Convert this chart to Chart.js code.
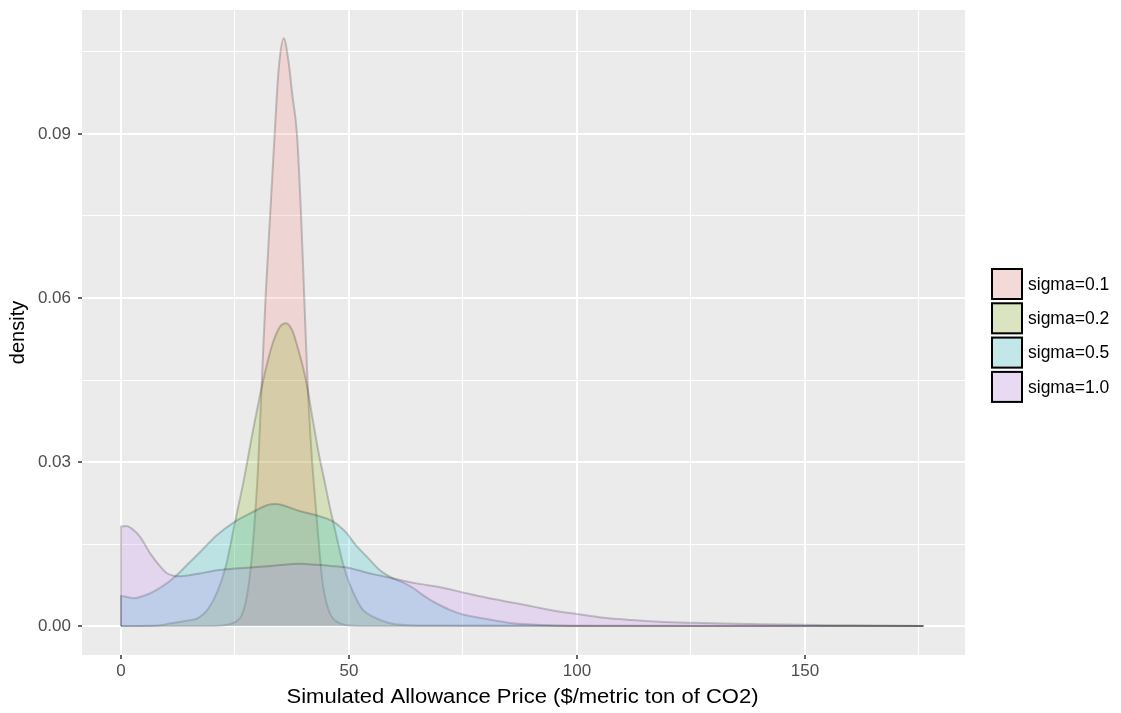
<!DOCTYPE html>
<html>
<head>
<meta charset="utf-8">
<script src="https://cdn.jsdelivr.net/npm/chart.js@4/dist/chart.umd.min.js"></script>
<style>
  html, body { margin: 0; padding: 0; background: #fff; }
  #wrap { width: 1121px; height: 713px; }
</style>
</head>
<body>
<div id="wrap"><canvas id="densityChart" width="1121" height="713"></canvas></div>
<script>
// series: price ($/t) and density per sigma group
const seriesLabels = ['sigma=0.1', 'sigma=0.2', 'sigma=0.5', 'sigma=1.0'];
const seriesColors = ['248,118,109', '124,174,0', '0,191,196', '199,124,255'];

const priceS01 = [0, 20, 23, 25, 26.5, 27.5, 28.5, 29.3, 30, 30.8, 31.7, 32.7, 33.7, 34.6, 35.7, 36.7, 37.6, 38.6, 39.5, 40.2, 40.9, 41.6, 42.2, 42.9, 43.5, 44.2, 45, 46, 47.5, 50, 55, 176];
const densityS01 = [0, 0, 0.0002, 0.0007, 0.002, 0.005, 0.011, 0.019, 0.028, 0.043, 0.06, 0.075, 0.09, 0.102, 0.1075, 0.1035, 0.097, 0.09, 0.075, 0.06, 0.045, 0.034, 0.027, 0.02, 0.014, 0.008, 0.0045, 0.002, 0.0007, 0.0001, 0, 0];

const priceS02 = [0, 8, 11, 14, 17, 19, 21, 23, 25, 27, 29, 31.2, 33, 34.9, 36.2, 37.5, 38.5, 40.4, 42.2, 43.5, 44.4, 45.8, 47.3, 48.5, 49.5, 50.6, 51.7, 53, 55, 59, 65, 176];
const densityS02 = [0, 0.0001, 0.0005, 0.0009, 0.0015, 0.003, 0.006, 0.011, 0.019, 0.027, 0.036, 0.045, 0.051, 0.0548, 0.0554, 0.0542, 0.0517, 0.0456, 0.0371, 0.031, 0.0275, 0.0218, 0.0163, 0.012, 0.0092, 0.0068, 0.0048, 0.003, 0.0018, 0.0005, 0.0001, 0];

const priceS05 = [0, 0, 2.7, 6.4, 10, 12.2, 14.5, 17.3, 21, 25, 29, 32, 33.8, 35.5, 38.5, 42.2, 45, 46.6, 48, 49.5, 51.5, 53.9, 56.8, 59.7, 62, 64, 66, 68, 70, 72, 75, 78, 82, 86, 92, 100, 176];
const densityS05 = [0, 0.0055, 0.0051, 0.006, 0.0078, 0.0093, 0.0112, 0.0135, 0.0166, 0.0191, 0.0209, 0.0221, 0.0223, 0.0221, 0.0212, 0.0204, 0.0197, 0.0191, 0.0182, 0.017, 0.0148, 0.0127, 0.0102, 0.0087, 0.0079, 0.007, 0.0058, 0.0047, 0.0038, 0.003, 0.0021, 0.0016, 0.001, 0.0005, 0.0002, 0, 0];

const priceS10 = [0, 0, 1.2, 2.7, 4.2, 6.4, 8.6, 10, 11.5, 13, 15, 17.3, 21, 25, 28.3, 33, 39.3, 43, 46, 49.5, 52, 54.6, 57, 59.7, 64.8, 70, 74.7, 80, 86.4, 90.7, 95, 100, 106, 112, 118, 125, 135, 145, 155, 165, 176];
const densityS10 = [0, 0.0182, 0.0183, 0.0176, 0.0163, 0.0133, 0.0109, 0.0097, 0.0092, 0.0091, 0.0093, 0.0096, 0.0102, 0.0105, 0.0107, 0.011, 0.0114, 0.0112, 0.011, 0.0107, 0.0102, 0.0096, 0.0092, 0.0087, 0.0078, 0.0071, 0.0062, 0.0052, 0.0042, 0.0035, 0.0028, 0.0022, 0.0015, 0.0011, 0.0008, 0.0006, 0.0004, 0.0003, 0.00015, 0.0001, 0];

const xTickValues = [0, 25, 50, 75, 100, 125, 150, 175];
const xMajorTicks = [0, 50, 100, 150];
const yTickValues = [0, 0.015, 0.03, 0.045, 0.06, 0.075, 0.09, 0.105];
const yMajorTicks = [0, 0.03, 0.06, 0.09];

const xTitle = 'Simulated Allowance Price ($/metric ton of CO2)';
const yTitle = 'density';

const FONT = '"Liberation Sans", Arial, Helvetica, sans-serif';

const pairs = (xs, ys) => xs.map((x, i) => ({ x, y: ys[i] }));
const seriesData = [
    pairs(priceS01, densityS01),
    pairs(priceS02, densityS02),
    pairs(priceS05, densityS05),
    pairs(priceS10, densityS10)
];

const isMajor = (list, v) => list.some(m => Math.abs(m - v) < 1e-9);

// grey panel behind the grid
const panelBg = {
    id: 'panelBg',
    beforeDraw(chart) {
        const { ctx, chartArea: a } = chart;
        ctx.save();
        ctx.fillStyle = '#EBEBEB';
        ctx.fillRect(a.left, a.top, a.right - a.left, a.bottom - a.top);
        ctx.restore();
    }
};

// axis titles and the ggplot-style legend on the right
const decorations = {
    id: 'decorations',
    afterDraw(chart) {
        const { ctx, chartArea: a } = chart;
        ctx.save();
        ctx.fillStyle = '#000';
        ctx.font = '20px ' + FONT;
        ctx.textAlign = 'center';
        ctx.textBaseline = 'middle';
        // the reference title is a little wider than the font alone gives
        const w = ctx.measureText(xTitle).width;
        ctx.translate((a.left + a.right) / 2 - 1, 697);
        ctx.scale(472 / w, 1);
        ctx.fillText(xTitle, 0, 0);
        ctx.restore();

        ctx.save();
        ctx.fillStyle = '#000';
        ctx.font = '20px ' + FONT;
        ctx.textAlign = 'center';
        ctx.textBaseline = 'middle';
        ctx.translate(18, (a.top + a.bottom) / 2);
        ctx.rotate(-Math.PI / 2);
        ctx.fillText(yTitle, 0, 0);
        ctx.restore();

        ctx.save();
        const keyX = 991, keyTop = 268, keySize = 32, pitch = 34.3;
        seriesLabels.forEach((label, i) => {
            const y = keyTop + i * pitch;
            ctx.fillStyle = '#F2F2F2';
            ctx.fillRect(keyX, y, keySize, keySize);
            ctx.fillStyle = 'rgba(' + seriesColors[i] + ',0.2)';
            ctx.fillRect(keyX, y, keySize, keySize);
            ctx.strokeStyle = '#000';
            ctx.lineWidth = 2;
            ctx.strokeRect(keyX + 1, y + 1, keySize - 2, keySize - 2);
            ctx.fillStyle = '#000';
            ctx.font = '17.5px ' + FONT;
            ctx.textAlign = 'left';
            ctx.textBaseline = 'middle';
            ctx.fillText(label, 1028, y + keySize / 2 + 1);
        });
        ctx.restore();
    }
};

const datasets = seriesData.map((data, i) => ({
    label: seriesLabels[i],
    data,
    fill: 'origin',
    backgroundColor: 'rgba(' + seriesColors[i] + ',0.2)',
    borderColor: 'rgba(0,0,0,0.2)',
    borderWidth: 2,
    pointRadius: 0,
    cubicInterpolationMode: 'monotone',
    order: seriesData.length - i
}));

new Chart(document.getElementById('densityChart'), {
    type: 'line',
    data: { datasets },
    options: {
        responsive: false,
        animation: false,
        layout: { padding: { top: 10, right: 156, left: 0, bottom: 0 } },
        plugins: { legend: { display: false }, tooltip: { enabled: false } },
        scales: {
            x: {
                type: 'linear',
                min: -8.55,
                max: 185.1,
                afterBuildTicks: axis => { axis.ticks = xTickValues.map(v => ({ value: v })); },
                afterFit: axis => {
                    axis.height = 58;
                    axis.paddingLeft = 0;
                    axis.paddingRight = 0;
                },
                border: { display: false },
                grid: {
                    color: '#FFFFFF',
                    lineWidth: c => (c.tick && isMajor(xMajorTicks, c.tick.value) ? 2 : 1),
                    tickColor: c => (c.tick && isMajor(xMajorTicks, c.tick.value) ? '#333333' : 'rgba(0,0,0,0)'),
                    tickLength: 4,
                    tickWidth: 1.5
                },
                ticks: {
                    autoSkip: false,
                    maxRotation: 0,
                    padding: 2,
                    color: '#4D4D4D',
                    font: { family: FONT, size: 17 },
                    callback: v => (isMajor(xMajorTicks, v) ? String(v) : '')
                }
            },
            y: {
                type: 'linear',
                min: -0.0053,
                max: 0.11268,
                afterBuildTicks: axis => { axis.ticks = yTickValues.map(v => ({ value: v })); },
                afterFit: axis => {
                    axis.width = 82;
                    axis.paddingTop = 0;
                    axis.paddingBottom = 0;
                },
                border: { display: false },
                grid: {
                    color: '#FFFFFF',
                    lineWidth: c => (c.tick && isMajor(yMajorTicks, c.tick.value) ? 2 : 1),
                    tickColor: c => (c.tick && isMajor(yMajorTicks, c.tick.value) ? '#333333' : 'rgba(0,0,0,0)'),
                    tickLength: 4,
                    tickWidth: 1.5
                },
                ticks: {
                    autoSkip: false,
                    padding: 7,
                    color: '#4D4D4D',
                    font: { family: FONT, size: 17 },
                    callback: v => (isMajor(yMajorTicks, v) ? v.toFixed(2) : '')
                }
            }
        }
    },
    plugins: [panelBg, decorations]
});
</script>
</body>
</html>
